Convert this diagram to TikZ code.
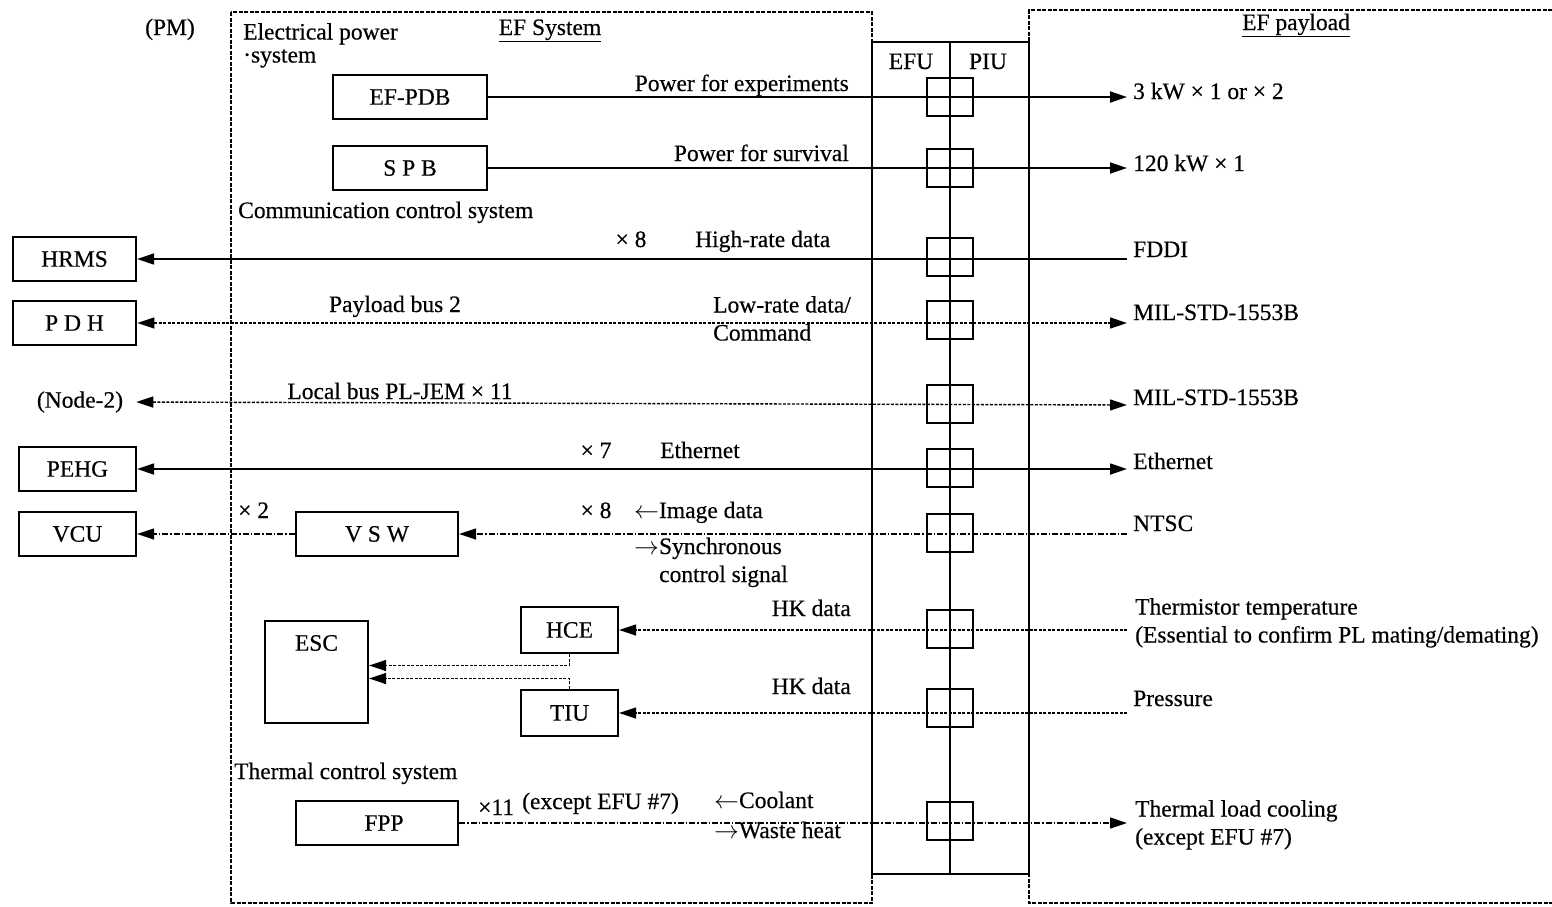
\documentclass[tikz,border=0pt]{standalone}
\usepackage{fontspec}
\setmainfont{Liberation Serif}[FakeBold=0.4]
\usetikzlibrary{arrows.meta,calc}
\begin{document}
\begin{tikzpicture}[x=1pt,y=-1pt,
  every node/.style={font=\fontsize{23.5}{28}\selectfont},
  txt/.style={inner sep=0pt},
  blk/.style={draw,line width=2.2pt,inner sep=0pt,minimum height=44pt},
  sq/.style={draw,line width=2.2pt,minimum width=46pt,minimum height=38pt,inner sep=0pt},
  solidln/.style={line width=1.8pt},
  dotln/.style={line width=1.4pt,dash pattern=on 3pt off 1.5pt},
  ddln/.style={line width=1.4pt,dash pattern=on 6pt off 2pt on 1.5pt off 2pt},
  boxln/.style={line width=1.8pt,dash pattern=on 4pt off 1.5pt},
  >={Triangle[length=17pt,width=11pt]}
]
\useasboundingbox (0,0) rectangle (1552,906);

% outer boxes
\draw[boxln] (231,12) rectangle (872,903);
\draw[boxln] (1552,10) -- (1029,10) -- (1029,903) -- (1552,903);
\draw[line width=2.2pt,fill=white] (872,42) rectangle (1029,874);
\draw[line width=2pt] (950,42) -- (950,874);

% titles and group labels
\node[txt,anchor=base] (pm) at (170,35) {(PM)};
\node[txt,anchor=north west,align=left,font=\fontsize{23.5}{23}\selectfont] (eps) at (243,23) {Electrical power\\·system};
\node[txt,anchor=base] (efs) at (550,35) {\underline{EF System}};
\node[txt,anchor=base] (efp) at (1296,30) {\underline{EF payload}};
\node[txt,anchor=base] (efu) at (911,69) {EFU};
\node[txt,anchor=base] (piu) at (988,69) {PIU};
\node[txt,anchor=base west] (ccs) at (238,218) {Communication control system};
\node[txt,anchor=base west] (tcs) at (234,779) {Thermal control system};

% blocks
\node[blk,minimum width=154pt] (pdb) at (410,97) {EF-PDB};
\node[blk,minimum width=154pt] (spb) at (410,168) {S P B};
\node[blk,minimum width=123pt] (hrms) at (74.5,259) {HRMS};
\node[blk,minimum width=123pt,line width=2.8pt] (pdh) at (74.5,323) {P D H};
\node[txt] (node2) at (80,402) {(Node-2)};
\node[blk,minimum width=117pt] (pehg) at (77.5,469) {PEHG};
\node[blk,minimum width=117pt] (vcu) at (77.5,534) {VCU};
\node[blk,minimum width=162pt] (vsw) at (377,534) {V S W};
\node[blk,minimum width=103pt,minimum height=102pt,
      label={[txt,anchor=north,yshift=-15pt]north:ESC}] (esc) at (316.5,672) {};
\node[blk,minimum width=97pt,minimum height=46pt] (hce) at (569.5,630) {HCE};
\node[blk,minimum width=97pt,minimum height=46pt] (tiu) at (569.5,713) {TIU};
\node[blk,minimum width=162pt] (fpp) at (377,823) {\hspace*{14pt}FPP};

% right end coordinates
\coordinate (r1) at (1127,97);
\coordinate (r2) at (1127,168);
\coordinate (r3) at (1127,259);
\coordinate (r4) at (1127,323);
\coordinate (r5) at (1127,405);
\coordinate (r6) at (1127,469);
\coordinate (r7) at (1127,534);
\coordinate (r8) at (1127,630);
\coordinate (r9) at (1127,713);
\coordinate (r10) at (1127,823);

% right labels
\node[txt,anchor=base west] (l1) at (1133,99) {3 kW × 1 or × 2};
\node[txt,anchor=base west] (l2) at (1133,171) {120 kW × 1};
\node[txt,anchor=base west] (l3) at (1133,257) {FDDI};
\node[txt,anchor=base west] (l4) at (1133,320) {MIL-STD-1553B};
\node[txt,anchor=base west] (l5) at (1133,405) {MIL-STD-1553B};
\node[txt,anchor=base west] (l6) at (1133,469) {Ethernet};
\node[txt,anchor=base west] (l7) at (1133,531) {NTSC};
\node[txt,anchor=north west,align=left] (l8) at (1135,598) {Thermistor temperature\\(Essential to confirm PL mating/demating)};
\node[txt,anchor=base west] (l9) at (1133,706) {Pressure};
\node[txt,anchor=north west,align=left] (l10) at (1135,800) {Thermal load cooling\\(except EFU \#7)};

% connectors
\draw[solidln,->] (pdb.east) -- (r1);
\draw[solidln,->] (spb.east) -- (r2);
\draw[solidln,->] (r3) -- (hrms.east);
\draw[dotln,<->] (pdh.east) -- (r4);
\draw[dotln,<->] ([xshift=13pt]node2.east) -- (r5);
\draw[solidln,<->] (pehg.east) -- (r6);
\draw[ddln,->] (r7) -- (vsw.east);
\draw[ddln,->] (vsw.west) -- (vcu.east);
\draw[dotln,->] (r8) -- (hce.east);
\draw[dotln,->] (r9) -- (tiu.east);
\draw[ddln,->] (fpp.east) -- (r10);
\draw[dotln,->] (hce.south) |- ([yshift=6.5pt]esc.east);
\draw[dotln,->] (tiu.north) |- ([yshift=-6.5pt]esc.east);

% EFU/PIU connector squares
\foreach \n/\yy in {1/97,2/168,3/257,4/320,5/404,6/468,7/533,8/629,9/708,10/821}
  \node[sq] (c\n) at (950,\yy) {};

% line labels
\node[txt,anchor=base east] (t1) at (849,91) {Power for experiments};
\node[txt,anchor=base east] (t2) at (849,161) {Power for survival};
\node[txt,anchor=base] (t3a) at (631,247) {× 8};
\node[txt,anchor=base west] (t3b) at (695,247) {High-rate data};
\node[txt,anchor=base] (t4a) at (395,312) {Payload bus 2};
\node[txt,anchor=north west,align=left] (t4b) at (713,296) {Low-rate data/\\Command};
\node[txt,anchor=base] (t5) at (400,399) {Local bus PL-JEM × 11};
\node[txt,anchor=base] (t6a) at (596,458) {× 7};
\node[txt,anchor=base west] (t6b) at (660,458) {Ethernet};
\node[txt,anchor=base west] (t7a) at (238,518) {× 2};
\node[txt,anchor=base] (t7b) at (596,518) {× 8};
\node[txt,anchor=base west] (t7c) at (634,518) {$\leftarrow$Image data};
\node[txt,anchor=base west] (t7d) at (634,554) {$\rightarrow$Synchronous};
\node[txt,anchor=base west] (t7e) at (659,582) {control signal};
\node[txt,anchor=base east] (t8) at (851,616) {HK data};
\node[txt,anchor=base east] (t9) at (851,694) {HK data};
\node[txt,anchor=base west] (t10a) at (478,815) {×11};
\node[txt,anchor=base west] (t10b) at (522,809) {(except EFU \#7)};
\node[txt,anchor=base west] (t10c) at (714,808) {$\leftarrow$Coolant};
\node[txt,anchor=base west] (t10d) at (714,838) {$\rightarrow$Waste heat};
\end{tikzpicture}
\end{document}
